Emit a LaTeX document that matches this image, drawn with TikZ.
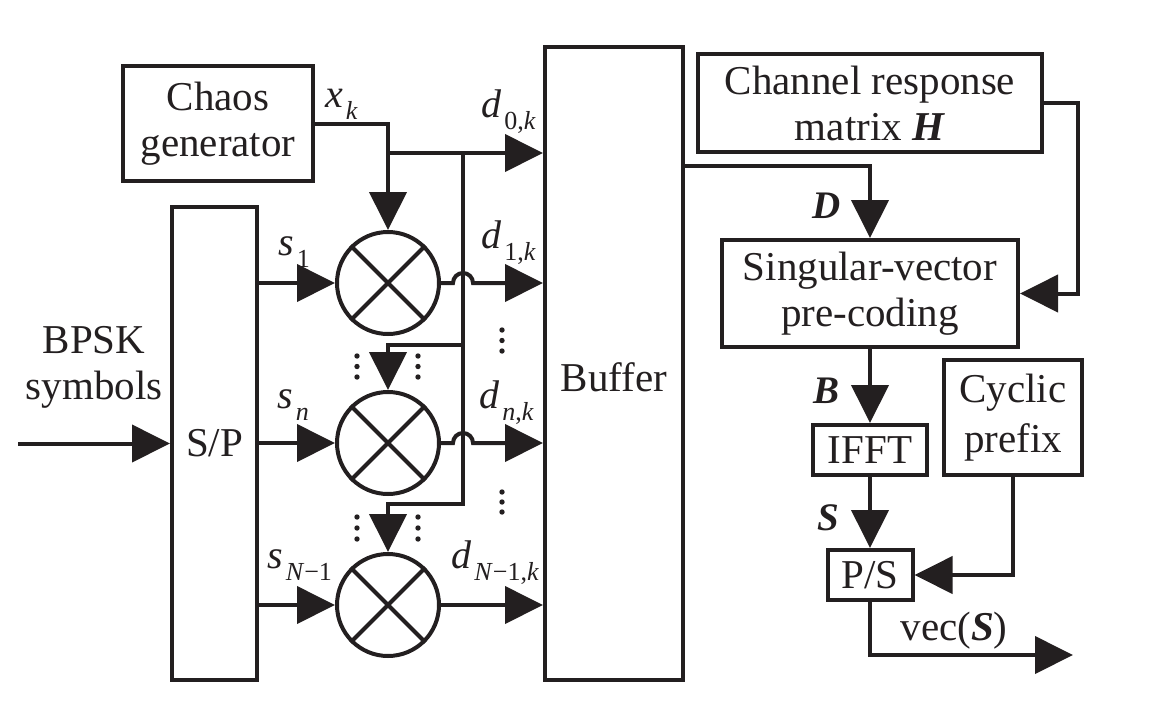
\documentclass[tikz,border=0pt]{standalone}
\usepackage{fontspec}
\setmainfont{Liberation Serif}
\usetikzlibrary{arrows.meta,calc}
\definecolor{ink}{HTML}{231F20}
\newcommand\sublbl[2]{\textit{#1}\kern3pt\raisebox{-12pt}{\fontsize{26}{26}\selectfont #2}}
\begin{document}
\begin{tikzpicture}[x=1pt,y=-1pt,
  box/.style={draw=ink, line width=4pt, rectangle, inner sep=0pt, align=center,
              font=\fontsize{41}{46}\selectfont, text=ink},
  mult/.style={draw=ink, line width=4pt, circle, minimum size=102pt, inner sep=0pt},
  arr/.style={-{Triangle[length=38pt,width=37pt]}, draw=ink, line width=4pt},
  wire/.style={draw=ink, line width=4pt},
  txt/.style={font=\fontsize{41}{46}\selectfont, text=ink, inner sep=0pt, align=center},
  lab/.style={font=\fontsize{40}{42}\selectfont, text=ink, inner sep=0pt, anchor=base west},
  blab/.style={font=\fontsize{39}{40}\selectfont\bfseries\itshape, text=ink, inner sep=0pt}]
\useasboundingbox (0,0) rectangle (1152,702);

% blocks
\node[box, minimum width=190pt, minimum height=115pt] (chaos) at (218,123.5) {Chaos\\generator};
\node[box, minimum width=85pt, minimum height=473pt] (sp) at (214.5,443.5) {S/P};
\node[box, minimum width=138pt, minimum height=633pt] (buf) at (614,363.5) {};
\node[txt] (buftxt) at ([yshift=-14pt]buf.center) {Buffer};
\node[mult] (m1) at (388,283) {};
\node[mult] (m2) at (388,443) {};
\node[mult] (m3) at (388,605) {};
\foreach \m in {m1,m2,m3}{
  \draw[wire] (\m.north west) -- (\m.south east);
  \draw[wire] (\m.north east) -- (\m.south west);
}
\node[box, minimum width=344pt, minimum height=98pt] (chan) at (870,103) {Channel response\\matrix \textbf{\textit{H}}};
\node[box, minimum width=296pt, minimum height=107pt] (svp) at (870,293.5) {Singular-vector\\pre-coding};
\node[box, minimum width=114pt, minimum height=50pt] (ifft) at (870,450) {IFFT};
\node[box, minimum width=138pt, minimum height=115pt, font=\fontsize{41}{50}\selectfont] (cp) at (1013,417.5) {Cyclic\\prefix};
\node[box, minimum width=85pt, minimum height=50pt] (ps) at (870,575) {P/S};

\node[txt] (bpsk) at (94,367) {BPSK\\symbols};

% coordinates
\coordinate (in) at (18,443.5);
\coordinate (j1) at (388,153);
\coordinate (j2) at (463,153);
\coordinate (t2) at (388,345);
\coordinate (t3) at (388,504);
\coordinate (yD) at (0,166);
\coordinate (hR) at (1078,0);
\coordinate (outc) at (1073,655);

% left side connectors
\draw[arr] (in) -- (in -| sp.west);
\draw[arr] (sp.east |- m1) -- (m1.west);
\draw[arr] (sp.east |- m2) -- (m2.west);
\draw[arr] (sp.east |- m3) -- (m3.west);
\draw[arr] (chaos.east) -| (m1.north);
\draw[arr] (j1) -- (j1 -| buf.west);
\draw[arr] (j2) |- (t2) -- (m2.north);
\draw[arr] (j2) |- (t3) -- (m3.north);
\draw[arr] (m1.east) -- (453,283) arc[start angle=180,end angle=0,radius=10pt] -- (m1 -| buf.west);
\draw[arr] (m2.east) -- (453,443) arc[start angle=180,end angle=0,radius=10pt] -- (m2 -| buf.west);
\draw[arr] (m3.east) -- (m3 -| buf.west);

% dots
\foreach \x/\y in {357/356,357/366.5,357/377, 418/356,418/366.5,418/377,
                   357/517,357/528,357/539, 418/517,418/528,418/539,
                   502/330,502/340.5,502/351, 502/492,502/502,502/512}
  \fill[ink] (\x,\y) circle[radius=2.7pt];

% right side connectors
\draw[arr] (buf.east |- yD) -| (svp.north);
\draw[arr] (chan.east) -| (hR |- svp.east) -- (svp.east);
\draw[arr] (svp.south) -- (ifft.north);
\draw[arr] (ifft.south) -- (ps.north);
\draw[arr] (cp.south) |- (ps.east);
\draw[arr] (ps.south) |- (outc);

% labels
\node[lab] (lxk) at (325,107) {\sublbl{x}{\textit{k}}};
\node[lab] (ld0) at (481,117) {\sublbl{d}{0,\textit{k}}};
\node[lab] (ld1) at (481,248) {\sublbl{d}{1,\textit{k}}};
\node[lab] (ldn) at (479,408) {\sublbl{d}{\textit{n},\textit{k}}};
\node[lab] (ldN) at (451,568) {\sublbl{d}{\textit{N}−1,\textit{k}}};
\node[lab] (ls1) at (278,255) {\sublbl{s}{1}};
\node[lab] (lsn) at (277,408) {\sublbl{s}{\textit{n}}};
\node[lab] (lsN) at (267,568) {\sublbl{s}{\textit{N}−1}};
\node[blab] (lD) at (827,206) {D};
\node[blab] (lB) at (826,391) {B};
\node[blab] (lS) at (828,518) {S};
\node[txt, anchor=base] (lvec) at (954,640) {vec(\textbf{\textit{S}})};
\end{tikzpicture}
\end{document}
